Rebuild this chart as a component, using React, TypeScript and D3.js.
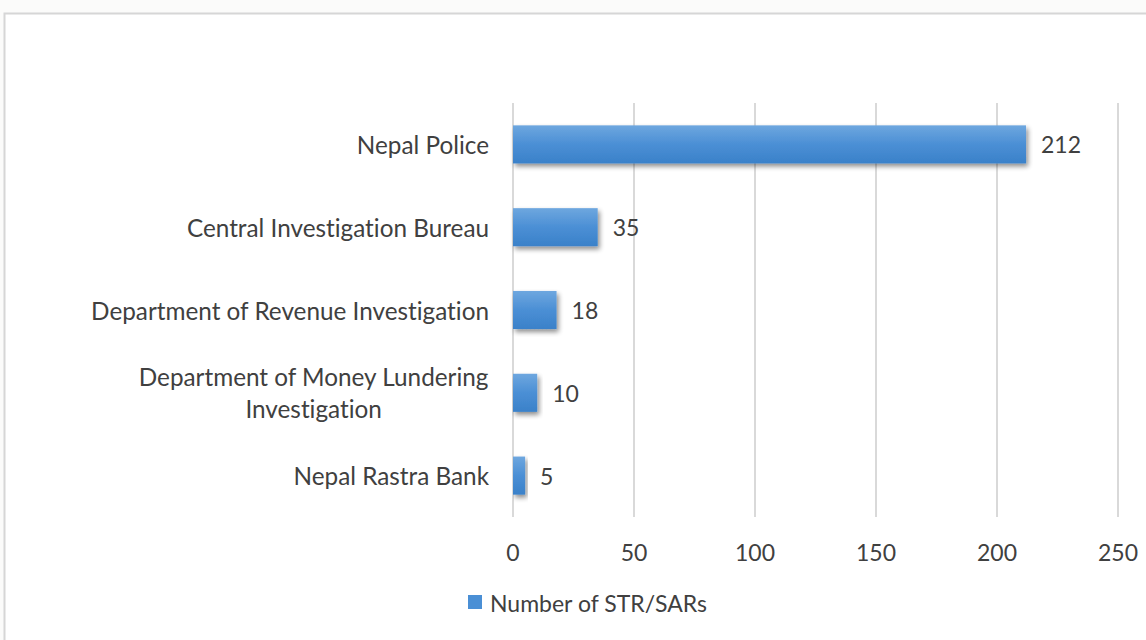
import React from "react";
import * as d3 from "d3";

const categories = [
  "Nepal Police",
  "Central Investigation Bureau",
  "Department of Revenue Investigation",
  "Department of Money Lundering Investigation",
  "Nepal Rastra Bank",
];
const values = [212, 35, 18, 10, 5];
const xTicks = [0, 50, 100, 150, 200, 250];
const seriesName = "Number of STR/SARs";

const W = 1146;
const H = 640;
const FONT = "Lato, 'Open Sans', sans-serif";
const FS = 23;
const FS_CAT = 24.3;
const TEXT = "#404040";

function measure(text: string, size: number) {
  const c = document.createElement("canvas").getContext("2d");
  if (!c) return text.length * size * 0.5;
  c.font = `${size}px Lato`;
  (c as any).fontVariantLigatures = "none";
  return c.measureText(text).width;
}

function wrap(label: string, maxChars: number): string[] {
  const words = label.split(" ");
  const lines: string[] = [];
  let cur = "";
  for (const w of words) {
    const t = cur ? cur + " " + w : w;
    if (t.length > maxChars && cur) {
      lines.push(cur);
      cur = w;
    } else cur = t;
  }
  if (cur) lines.push(cur);
  return lines;
}

export default function App() {
  const x = d3.scaleLinear().domain([0, 250]).range([513, 1118]);
  const y = d3.scaleBand<string>().domain(categories).range([103, 517]).paddingInner(0.54).paddingOuter(0.27);
  const labelRight = 489;
  const lineH = 32;

  return (
    <svg
      width={W}
      height={H}
      style={{ position: "absolute", left: 0, top: 0, fontFamily: FONT, fontVariantLigatures: "none" }}
    >
      <defs>
        <linearGradient id="barGrad" x1="0" y1="0" x2="0" y2="1">
          <stop offset="0%" stopColor="#6ea7df" />
          <stop offset="50%" stopColor="#4b8fd5" />
          <stop offset="100%" stopColor="#3a81c9" />
        </linearGradient>
        <filter id="shadow" x="-10%" y="-30%" width="130%" height="180%">
          <feGaussianBlur in="SourceAlpha" stdDeviation="2.5" />
          <feOffset dx="2" dy="3" result="b" />
          <feComponentTransfer>
            <feFuncA type="linear" slope="0.45" />
          </feComponentTransfer>
          <feMerge>
            <feMergeNode />
            <feMergeNode in="SourceGraphic" />
          </feMerge>
        </filter>
      </defs>
      <rect x={0} y={0} width={W} height={H} fill="#fbfbfa" />
      <rect x={4.5} y={13.5} width={W + 10} height={H + 10} fill="#ffffff" stroke="#d6d6d6" strokeWidth={2} />

      {xTicks.map((t) => (
        <g key={t}>
          <line x1={x(t)} x2={x(t)} y1={103} y2={517} stroke="#d9d9d9" strokeWidth={2} />
          <text x={x(t)} y={552} textAnchor="middle" dominantBaseline="central" fontSize={FS} fill={TEXT}>
            {t}
          </text>
        </g>
      ))}

      {categories.map((c, i) => {
        const by = y(c)!;
        const bh = y.bandwidth();
        const cy = by + bh / 2;
        const lines = wrap(c, 38);
        const w1 = measure(lines[0], FS_CAT);
        return (
          <g key={c}>
            <rect x={x(0)} y={by} width={x(values[i]) - x(0)} height={bh} fill="url(#barGrad)" filter="url(#shadow)" />
            <text x={x(values[i]) + 15} y={cy} dominantBaseline="central" fontSize={FS} fill={TEXT}>
              {values[i]}
            </text>
            {lines.length === 1 ? (
              <text x={labelRight} y={cy} textAnchor="end" dominantBaseline="central" fontSize={FS_CAT} fill={TEXT}>
                {c}
              </text>
            ) : (
              lines.map((ln, k) => (
                <text
                  key={k}
                  x={labelRight - w1 / 2}
                  y={cy + (k - (lines.length - 1) / 2) * lineH}
                  textAnchor="middle"
                  dominantBaseline="central"
                  fontSize={FS_CAT}
                  fill={TEXT}
                >
                  {ln}
                </text>
              ))
            )}
          </g>
        );
      })}

      <rect x={468} y={595} width={14} height={14} fill="#4a8fd5" />
      <text x={490} y={603} dominantBaseline="central" fontSize={FS} fill={TEXT}>
        {seriesName}
      </text>
    </svg>
  );
}
